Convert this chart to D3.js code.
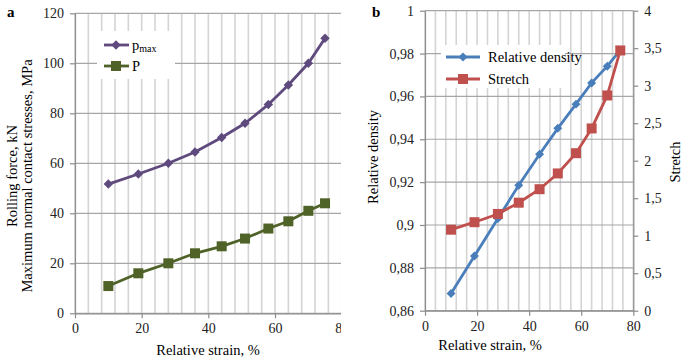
<!DOCTYPE html>
<html>
<head>
<meta charset="utf-8">
<style>
  body { margin: 0; background: #fff; }
  svg { font-family: "Liberation Serif", "Times New Roman", serif; }
  .vgrid line { stroke: #d4d4d4; stroke-width: 1.6px; }
  .hgrid line { stroke: #a6a6a6; stroke-width: 1.2px; }
  .axis .domain, .axis .tick line { stroke: #8c8c8c; stroke-width: 1.2px; }
  .axis text { font-size: 14px; fill: #222; font-family: "Liberation Serif", serif; }
</style>
</head>
<body>
<div class="chart"></div>
<script src="https://d3js.org/d3.v7.min.js"></script>
<script>
  // panel a data
  const strainA = [10, 19, 28, 36, 44, 51, 58, 64, 70, 75]
  const pmax = [51.7, 55.7, 60, 64.5, 70.3, 76, 83.5, 91.3, 100, 110]
  const force = [10.9, 16, 20, 24, 26.8, 29.9, 33.9, 36.8, 41, 44]
  const yTicksA = [0, 20, 40, 60, 80, 100, 120]

  // panel b data
  const strainB = [10, 19, 28, 36, 44, 51, 58, 64, 70, 75]
  const density = [0.868, 0.8855, 0.903, 0.9185, 0.933, 0.9451, 0.9564, 0.9663, 0.9741, 0.9816]
  const stretch = [1.08, 1.18, 1.29, 1.44, 1.62, 1.83, 2.1, 2.43, 2.87, 3.47]
  const yTicksB = [0.86, 0.88, 0.9, 0.92, 0.94, 0.96, 0.98, 1]
  const y2TicksB = [0, 0.5, 1, 1.5, 2, 2.5, 3, 3.5, 4]
  const xTicks = [0, 20, 40, 60, 80]

  const svg = d3.select('.chart').append('svg')
    .attr('width', 685).attr('height', 362)

  const comma = d => String(d).replace('.', ',')
  const minorX = d3.range(0, 81, 4)
  // diamond = square turned 45 degrees, like the spreadsheet marker
  const diamond = (size) => d3.symbol(d3.symbolSquare, size)

  // ---------- panel a ----------
  svg.append('clipPath').attr('id', 'clipA')
     .append('rect').attr('x', 0).attr('y', 0).attr('width', 341).attr('height', 362)
  const ga = svg.append('g').attr('clip-path', 'url(#clipA)')

  const xa = d3.scaleLinear().domain([0, 80]).range([75, 341.7])
  const ya = d3.scaleLinear().domain([0, 120]).range([313.3, 13.3])

  ga.append('g').attr('class', 'vgrid').selectAll('line')
    .data(minorX).join('line')
    .attr('x1', d => xa(d)).attr('x2', d => xa(d))
    .attr('y1', ya(0)).attr('y2', ya(120))
  ga.append('g').attr('class', 'hgrid').selectAll('line')
    .data(yTicksA).join('line')
    .attr('x1', xa(0)).attr('x2', xa(80))
    .attr('y1', d => ya(d)).attr('y2', d => ya(d))

  ga.append('g').attr('class', 'axis')
    .attr('transform', `translate(${xa(0)},0)`)
    .call(d3.axisLeft(ya).tickValues(yTicksA).tickSize(5).tickSizeOuter(0).tickPadding(6))
  ga.append('g').attr('class', 'axis')
    .attr('transform', `translate(0,${ya(0)})`)
    .call(d3.axisBottom(xa).tickValues(xTicks).tickSize(5).tickSizeOuter(0).tickPadding(5))

  const lineA = (ys) => d3.line().x((d, i) => xa(strainA[i])).y(d => ya(d))(ys)
  ga.append('path').attr('d', lineA(pmax))
    .attr('fill', 'none').attr('stroke', '#5f4a7e').attr('stroke-width', 2.8)
  ga.append('g').selectAll('path').data(pmax).join('path')
    .attr('transform', (d, i) => `translate(${xa(strainA[i])},${ya(d)}) rotate(45)`)
    .attr('d', diamond(44))
    .attr('fill', '#5f4a7e')
  ga.append('path').attr('d', lineA(force))
    .attr('fill', 'none').attr('stroke', '#4f6228').attr('stroke-width', 2.8)
  ga.append('g').selectAll('rect').data(force).join('rect')
    .attr('x', (d, i) => xa(strainA[i]) - 5).attr('y', d => ya(d) - 5)
    .attr('width', 10).attr('height', 10)
    .attr('fill', '#4f6228')

  // legend a
  ga.append('rect').attr('x', 97).attr('y', 31).attr('width', 78).attr('height', 48).attr('fill', '#fff')
  const legA = [
    { name: 'p', sub: 'max', color: '#5f4a7e', mark: 'diamond', y: 45 },
    { name: 'P', sub: '', color: '#4f6228', mark: 'square', y: 66 }
  ]
  legA.forEach(l => {
    ga.append('line').attr('x1', 104).attr('x2', 129).attr('y1', l.y).attr('y2', l.y)
      .attr('stroke', l.color).attr('stroke-width', 2.8)
    if (l.mark === 'diamond') {
      ga.append('path').attr('transform', `translate(116,${l.y}) rotate(45)`)
        .attr('d', diamond(44)).attr('fill', l.color)
    } else {
      ga.append('rect').attr('x', 111).attr('y', l.y - 5).attr('width', 10).attr('height', 10).attr('fill', l.color)
    }
    const t = ga.append('text').attr('x', 132).attr('y', l.y + 5).attr('font-size', 14.5).text(l.name)
    if (l.sub) t.append('tspan').attr('font-size', 10).attr('dy', 2).text(l.sub)
  })

  ga.append('text').attr('transform', 'translate(17,176) rotate(-90)')
    .attr('text-anchor', 'middle').attr('font-size', 14.5).text('Rolling force, kN')
  ga.append('text').attr('transform', 'translate(32,176) rotate(-90)')
    .attr('text-anchor', 'middle').attr('font-size', 14.5).text('Maximum normal contact stresses, MPa')
  ga.append('text').attr('x', 208).attr('y', 355)
    .attr('text-anchor', 'middle').attr('font-size', 14.5).text('Relative strain, %')
  svg.append('text').attr('x', 7).attr('y', 17).attr('font-size', 15).attr('font-weight', 'bold').text('a')

  // ---------- panel b ----------
  const gb = svg.append('g')
  const xb = d3.scaleLinear().domain([0, 80]).range([425, 633.3])
  const yb = d3.scaleLinear().domain([0.86, 1]).range([310.7, 10.7])
  const yb2 = d3.scaleLinear().domain([0, 4]).range([310.7, 10.7])

  gb.append('g').attr('class', 'vgrid').selectAll('line')
    .data(minorX).join('line')
    .attr('x1', d => xb(d)).attr('x2', d => xb(d))
    .attr('y1', yb(0.86)).attr('y2', yb(1))
  gb.append('g').attr('class', 'hgrid').selectAll('line')
    .data(yTicksB).join('line')
    .attr('x1', xb(0)).attr('x2', xb(80))
    .attr('y1', d => yb(d)).attr('y2', d => yb(d))

  gb.append('g').attr('class', 'axis')
    .attr('transform', `translate(${xb(0)},0)`)
    .call(d3.axisLeft(yb).tickValues(yTicksB).tickSize(5).tickSizeOuter(0).tickPadding(6).tickFormat(comma))
  gb.append('g').attr('class', 'axis')
    .attr('transform', `translate(${xb(80)},0)`)
    .call(d3.axisRight(yb2).tickValues(y2TicksB).tickSize(5).tickSizeOuter(0).tickPadding(6).tickFormat(comma))
  gb.append('g').attr('class', 'axis')
    .attr('transform', `translate(0,${yb(0.86)})`)
    .call(d3.axisBottom(xb).tickValues(xTicks).tickSize(5).tickSizeOuter(0).tickPadding(5))

  gb.append('path')
    .attr('d', d3.line().x((d, i) => xb(strainB[i])).y(d => yb(d))(density))
    .attr('fill', 'none').attr('stroke', '#4a7ebb').attr('stroke-width', 2.8)
  gb.append('g').selectAll('path').data(density).join('path')
    .attr('transform', (d, i) => `translate(${xb(strainB[i])},${yb(d)}) rotate(45)`)
    .attr('d', diamond(40))
    .attr('fill', '#4a7ebb')
  gb.append('path')
    .attr('d', d3.line().x((d, i) => xb(strainB[i])).y(d => yb2(d))(stretch))
    .attr('fill', 'none').attr('stroke', '#c0504d').attr('stroke-width', 2.8)
  gb.append('g').selectAll('rect').data(stretch).join('rect')
    .attr('x', (d, i) => xb(strainB[i]) - 5).attr('y', d => yb2(d) - 5)
    .attr('width', 10).attr('height', 10)
    .attr('fill', '#c0504d')

  // legend b
  gb.append('rect').attr('x', 441).attr('y', 45).attr('width', 124).attr('height', 43).attr('fill', '#fff')
  const legB = [
    { name: 'Relative density', color: '#4a7ebb', mark: 'diamond', y: 57 },
    { name: 'Stretch', color: '#c0504d', mark: 'square', y: 79 }
  ]
  legB.forEach(l => {
    gb.append('line').attr('x1', 446).attr('x2', 480).attr('y1', l.y).attr('y2', l.y)
      .attr('stroke', l.color).attr('stroke-width', 2.8)
    if (l.mark === 'diamond') {
      gb.append('path').attr('transform', `translate(463,${l.y}) rotate(45)`)
        .attr('d', diamond(40)).attr('fill', l.color)
    } else {
      gb.append('rect').attr('x', 458).attr('y', l.y - 5).attr('width', 10).attr('height', 10).attr('fill', l.color)
    }
    gb.append('text').attr('x', 488).attr('y', l.y + 5).attr('font-size', 14.5).text(l.name)
  })

  gb.append('text').attr('transform', 'translate(378,157) rotate(-90)')
    .attr('text-anchor', 'middle').attr('font-size', 14.5).text('Relative density')
  gb.append('text').attr('transform', 'translate(680,162) rotate(-90)')
    .attr('text-anchor', 'middle').attr('font-size', 14.5).text('Stretch')
  gb.append('text').attr('x', 490).attr('y', 350)
    .attr('text-anchor', 'middle').attr('font-size', 14.5).text('Relative strain, %')
  svg.append('text').attr('x', 372).attr('y', 17).attr('font-size', 15).attr('font-weight', 'bold').text('b')
</script>
</body>
</html>
